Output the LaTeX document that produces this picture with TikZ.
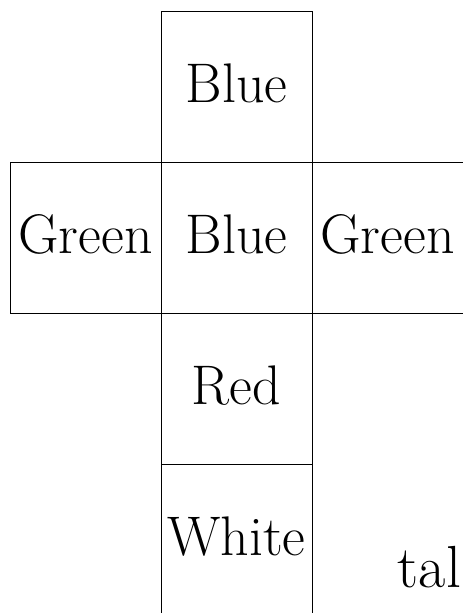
\documentclass[tikz,border=0pt]{standalone}
\begin{document}
\begin{tikzpicture}[
  bigtext/.style={font=\fontsize{26.3}{31}\selectfont},
  face/.style={draw, line width=0.4pt, minimum size=2.5cm, inner sep=0pt, text depth=3.3pt, bigtext},
  lbl/.style={inner sep=0pt, font=\fontsize{28}{33}\selectfont}
]
\useasboundingbox (0,0) rectangle (7.65,-10.15);
\node[face] (top) at (3.916,-1.44) {Blue};
\node[face] (mid) at (3.916,-3.94) {Blue};
\node[face] (left) at (1.416,-3.94) {Green};
\node[face] (right) at (6.416,-3.94) {Green};
\node[face] (red) at (3.916,-6.44) {Red};
\node[face] (white) at (3.916,-8.94) {White};
\node[lbl, anchor=base west] (tal) at (6.58,-9.72) {tal};
\end{tikzpicture}
\end{document}
